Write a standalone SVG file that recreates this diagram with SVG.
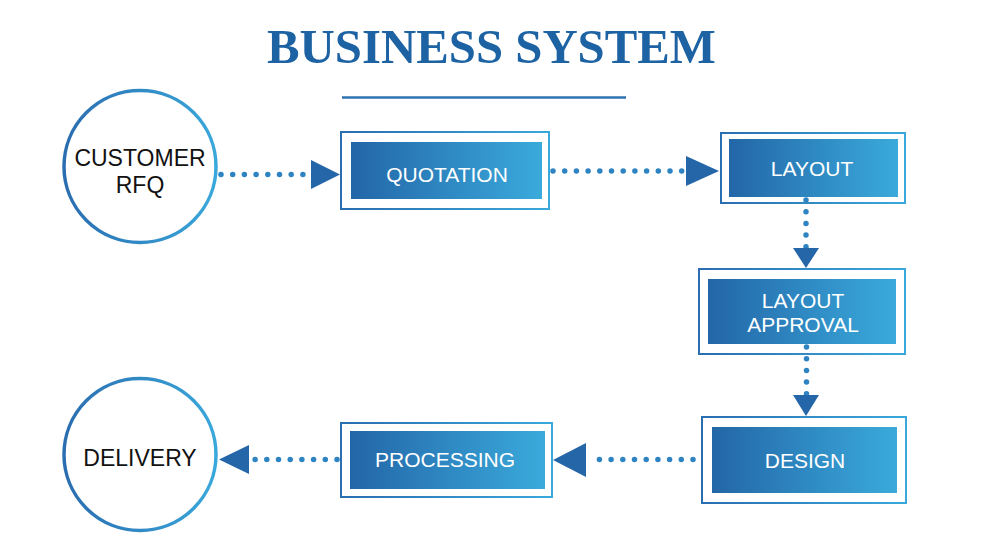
<svg xmlns="http://www.w3.org/2000/svg" width="982" height="551" viewBox="0 0 982 551">
  <defs>
    <linearGradient id="fillGrad" x1="0" y1="0" x2="1" y2="0">
      <stop offset="0" stop-color="#2366a8"/>
      <stop offset="1" stop-color="#3aaadb"/>
    </linearGradient>
    <linearGradient id="strokeGrad" x1="0" y1="0" x2="1" y2="0">
      <stop offset="0" stop-color="#2a6db0"/>
      <stop offset="1" stop-color="#3aa8da"/>
    </linearGradient>
    <style>
      .bg { fill: #ffffff; }
      .title { font-family: "Liberation Serif", "Times New Roman", serif; font-weight: bold; font-size: 48.8px; fill: #1d63a4; }
      .circle { fill: #ffffff; stroke: url(#strokeGrad); stroke-width: 3.5; }
      .outer { fill: #ffffff; stroke: url(#strokeGrad); stroke-width: 2; }
      .inner { fill: url(#fillGrad); }
      .ctext { font-family: "Liberation Sans", Arial, sans-serif; font-size: 23px; fill: #111111; text-anchor: middle; }
      .btext { font-family: "Liberation Sans", Arial, sans-serif; font-size: 21px; fill: #ffffff; text-anchor: middle; }
      .dots { stroke: #2e84c2; stroke-width: 5.5; stroke-linecap: round; stroke-dasharray: 0 11.7; fill: none; }
      .head { fill: #2466a8; }
    </style>
  </defs>
  <rect class="bg" x="0" y="0" width="982" height="551"/>

  <g id="title">
    <text class="title" x="491.5" y="63" text-anchor="middle">BUSINESS SYSTEM</text>
    <line x1="342" y1="97.5" x2="626" y2="97.5" stroke="#2f72b3" stroke-width="2.5"/>
  </g>

  <g id="customer-rfq">
    <circle class="circle" cx="140" cy="166.5" r="76"/>
    <text class="ctext" x="140" y="166">CUSTOMER</text>
    <text class="ctext" x="140" y="193">RFQ</text>
  </g>

  <g id="quotation">
    <rect class="outer" x="341" y="132" width="208" height="77"/>
    <rect class="inner" x="351" y="142" width="191" height="57"/>
    <text class="btext" x="447" y="182">QUOTATION</text>
  </g>

  <g id="layout">
    <rect class="outer" x="721" y="133" width="184" height="70"/>
    <rect class="inner" x="729" y="139" width="169" height="58"/>
    <text class="btext" x="812" y="176">LAYOUT</text>
  </g>

  <g id="layout-approval">
    <rect class="outer" x="699" y="269" width="206" height="85"/>
    <rect class="inner" x="708" y="279" width="188" height="65"/>
    <text class="btext" x="803" y="308">LAYOUT</text>
    <text class="btext" x="803" y="332">APPROVAL</text>
  </g>

  <g id="design">
    <rect class="outer" x="702" y="417" width="204" height="86"/>
    <rect class="inner" x="712" y="427" width="185" height="66"/>
    <text class="btext" x="805" y="468">DESIGN</text>
  </g>

  <g id="processing">
    <rect class="outer" x="341" y="423" width="211" height="74"/>
    <rect class="inner" x="350" y="431" width="195" height="58"/>
    <text class="btext" x="445" y="467">PROCESSING</text>
  </g>

  <g id="delivery">
    <circle class="circle" cx="140" cy="454.5" r="76"/>
    <text class="ctext" x="140" y="466">DELIVERY</text>
  </g>

  <g id="connectors">
    <line class="dots" x1="221" y1="174.5" x2="309" y2="174.5"/>
    <polygon class="head" points="311,160 340,174.5 311,189"/>
    <line class="dots" x1="553" y1="171" x2="685" y2="171"/>
    <polygon class="head" points="686,156 719,171 686,186"/>
    <line class="dots" x1="806" y1="200" x2="806" y2="247"/>
    <polygon class="head" points="793,248 819,248 806,268"/>
    <line class="dots" x1="806.5" y1="347" x2="806.5" y2="394"/>
    <polygon class="head" points="793,395 819,395 806,416"/>
    <line class="dots" x1="693" y1="459.5" x2="590" y2="459.5"/>
    <polygon class="head" points="586,443 586,477 553,460"/>
    <line class="dots" x1="337" y1="459.5" x2="250" y2="459.5"/>
    <polygon class="head" points="249,445 249,474 219,459.5"/>
  </g>
</svg>
